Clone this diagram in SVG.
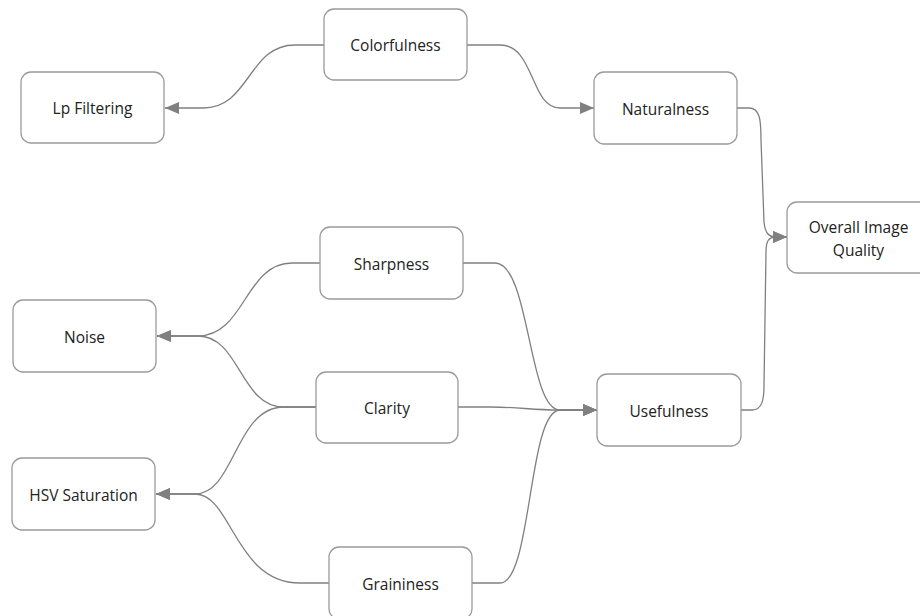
<svg xmlns="http://www.w3.org/2000/svg" width="920" height="616" viewBox="0 0 920 616">
  <style>
    .box { fill: #ffffff; stroke: #9a9a9a; stroke-width: 1.3; }
    .lbl { font-family: "Open Sans", "Liberation Sans", sans-serif; font-size: 15.5px; fill: #222222; text-anchor: middle; dominant-baseline: central; }
    .edge { fill: none; stroke: #808080; stroke-width: 1.3; }
  </style>
  <defs>
    <marker id="arrow" viewBox="0 0 14 12" refX="14" refY="6" markerWidth="14" markerHeight="12" markerUnits="userSpaceOnUse" orient="auto">
      <path d="M0,0 L14,6 L0,12 Z" fill="#808080"/>
    </marker>
  </defs>
  <rect width="920" height="616" fill="#ffffff"/>

  <g id="connectors">
    <path class="edge" marker-end="url(#arrow)" d="M324,45 H295 C248,45 250,108 203,108 H165"/>
    <path class="edge" marker-end="url(#arrow)" d="M467,45 H500 C535,45 530,108 560,108 H594"/>
    <path class="edge" marker-end="url(#arrow)" d="M737,108 H749 C760,108 761,120 761,140 L764,222 C765,232 768,237 776,237 H787"/>
    <path class="edge" marker-end="url(#arrow)" d="M741,410 H752 C762,410 764,400 764,385 L766,252 C766,242 768,237 776,237 H787"/>
    <path class="edge" marker-end="url(#arrow)" d="M463,263 H495 C530,263 528,410 560,410 H597"/>
    <path class="edge" marker-end="url(#arrow)" d="M458,407 H490 C520,407 530,410 560,410 H597"/>
    <path class="edge" marker-end="url(#arrow)" d="M472,583 H500 C532,583 528,410 560,410 H597"/>
    <path class="edge" marker-end="url(#arrow)" d="M320,263 H292 C245,263 245,336 198,336 H157"/>
    <path class="edge" marker-end="url(#arrow)" d="M316,407 H284 C240,407 240,336 198,336 H157"/>
    <path class="edge" marker-end="url(#arrow)" d="M316,407 H284 C235,407 235,494 195,494 H156"/>
    <path class="edge" marker-end="url(#arrow)" d="M329,583 H300 C235,583 232,494 195,494 H156"/>
  </g>

  <g id="colorfulness">
    <rect class="box" x="324" y="9" width="143" height="71" rx="10"/>
    <text class="lbl" x="395.5" y="45">Colorfulness</text>
  </g>
  <g id="lp-filtering">
    <rect class="box" x="21" y="72" width="143" height="71" rx="10"/>
    <text class="lbl" x="92.5" y="108">Lp Filtering</text>
  </g>
  <g id="naturalness">
    <rect class="box" x="594" y="72" width="143" height="72" rx="10"/>
    <text class="lbl" x="665.5" y="109">Naturalness</text>
  </g>
  <g id="overall-image-quality">
    <rect class="box" x="787" y="202" width="143" height="71" rx="10"/>
    <text class="lbl" x="858.5" y="227">Overall Image</text>
    <text class="lbl" x="858.5" y="250">Quality</text>
  </g>
  <g id="sharpness">
    <rect class="box" x="320" y="227" width="143" height="72" rx="10"/>
    <text class="lbl" x="391.5" y="264">Sharpness</text>
  </g>
  <g id="noise">
    <rect class="box" x="13" y="300" width="143" height="72" rx="10"/>
    <text class="lbl" x="84.5" y="337">Noise</text>
  </g>
  <g id="clarity">
    <rect class="box" x="316" y="372" width="142" height="71" rx="10"/>
    <text class="lbl" x="387" y="408">Clarity</text>
  </g>
  <g id="usefulness">
    <rect class="box" x="597" y="374" width="144" height="72" rx="10"/>
    <text class="lbl" x="669" y="411">Usefulness</text>
  </g>
  <g id="hsv-saturation">
    <rect class="box" x="12" y="458" width="143" height="72" rx="10"/>
    <text class="lbl" x="83.5" y="495">HSV Saturation</text>
  </g>
  <g id="graininess">
    <rect class="box" x="329" y="547" width="143" height="72" rx="10"/>
    <text class="lbl" x="400.5" y="584">Graininess</text>
  </g>
</svg>
